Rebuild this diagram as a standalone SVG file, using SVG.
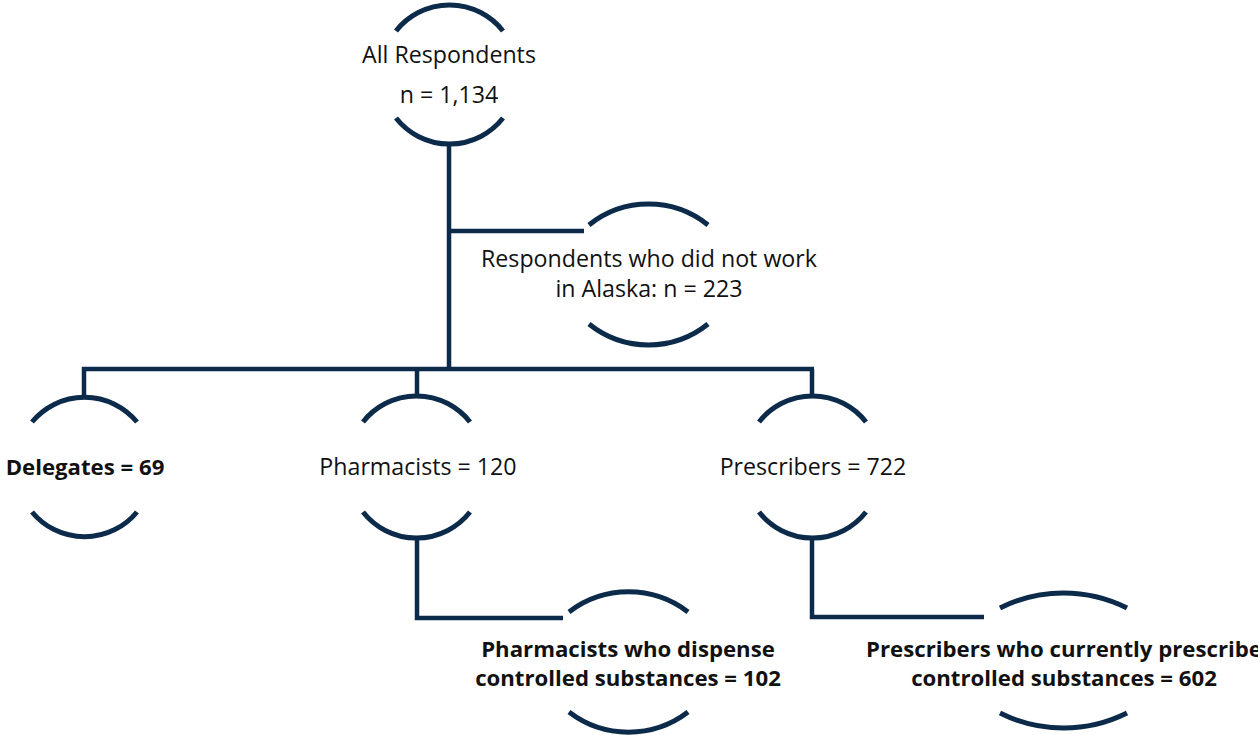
<svg xmlns="http://www.w3.org/2000/svg" width="1258" height="735" viewBox="0 0 1258 735">
  <style>
    .arc { fill: none; stroke: #0c2b4b; stroke-width: 5; }
    .link { fill: none; stroke: #0c2b4b; stroke-width: 4.5; }
    text { font-family: "Open Sans", "Liberation Sans", sans-serif; font-size: 23.2px; fill: #111; text-anchor: middle; }
    .b { font-weight: bold; font-size: 22.2px; }
  </style>
  <rect width="1258" height="735" fill="#fff"/>

  <g id="connectors">
    <path class="link" d="M449,143 V369"/>
    <path class="link" d="M449,231 H584"/>
    <path class="link" d="M84,398 V369 H814"/>
    <path class="link" d="M417,369 V398"/>
    <path class="link" d="M812,369 V398"/>
    <path class="link" d="M417,537 V618 H563"/>
    <path class="link" d="M812,537 V617 H984"/>
  </g>

  <g id="all-respondents">
    <path class="arc" d="M396,31 A68,68 0 0 1 503,31"/>
    <path class="arc" d="M396,118 A68,68 0 0 0 503,118"/>
    <text x="449" y="63">All Respondents</text>
    <text x="449" y="103">n = 1,134</text>
  </g>

  <g id="not-in-alaska">
    <path class="arc" d="M589,225 A95,95 0 0 1 708,225"/>
    <path class="arc" d="M589,324 A95,95 0 0 0 708,324"/>
    <text x="649" y="267">Respondents who did not work</text>
    <text x="649" y="297">in Alaska: n = 223</text>
  </g>

  <g id="delegates">
    <path class="arc" d="M32,422 A68,68 0 0 1 137,422"/>
    <path class="arc" d="M32,512 A68,68 0 0 0 137,512"/>
    <text class="b" x="85" y="475">Delegates = 69</text>
  </g>

  <g id="pharmacists">
    <path class="arc" d="M363,422 A68,68 0 0 1 470,422"/>
    <path class="arc" d="M363,512 A68,68 0 0 0 470,512"/>
    <text x="418" y="475">Pharmacists = 120</text>
  </g>

  <g id="prescribers">
    <path class="arc" d="M759,422 A68,68 0 0 1 866,422"/>
    <path class="arc" d="M759,512 A68,68 0 0 0 866,512"/>
    <text x="813" y="475">Prescribers = 722</text>
  </g>

  <g id="pharmacists-dispense">
    <path class="arc" d="M569,612 A98,98 0 0 1 688,612"/>
    <path class="arc" d="M569,712 A98,98 0 0 0 688,712"/>
    <text class="b" x="628" y="657">Pharmacists who dispense</text>
    <text class="b" x="628" y="686">controlled substances = 102</text>
  </g>

  <g id="prescribers-current">
    <path class="arc" d="M1000,608 A142,142 0 0 1 1127,608"/>
    <path class="arc" d="M1000,713 A142,142 0 0 0 1127,713"/>
    <text class="b" x="1064" y="657">Prescribers who currently prescribe</text>
    <text class="b" x="1064" y="686">controlled substances = 602</text>
  </g>
</svg>
